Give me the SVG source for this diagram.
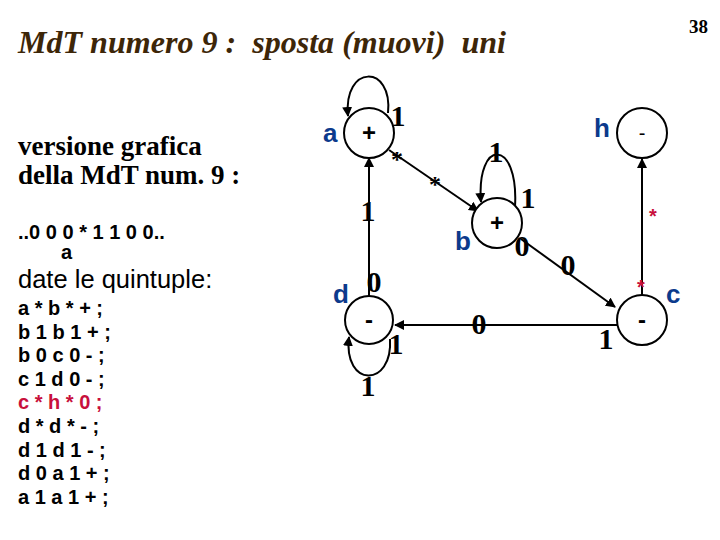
<svg xmlns="http://www.w3.org/2000/svg" width="720" height="540" viewBox="0 0 720 540">
<defs>
<style>
.title{font-family:"Liberation Serif",serif;font-weight:bold;font-style:italic;font-size:31px;fill:#3d2608}
.ser{font-family:"Liberation Serif",serif;font-weight:bold;font-size:27px;fill:#000}
.sans{font-family:"Liberation Sans",Arial,sans-serif;font-weight:bold;font-size:20px;fill:#000}
.red{fill:#c8103c}
.lbl{font-family:"Liberation Sans",Arial,sans-serif;font-weight:bold;font-size:26px;fill:#0c3a8c}
.sym{font-family:"Liberation Sans",Arial,sans-serif;font-weight:bold;font-size:24px;fill:#000;text-anchor:middle}
.dig{font-family:"Liberation Serif",serif;font-weight:bold;font-size:30px;fill:#000;text-anchor:middle}
.ast{font-family:"Liberation Serif",serif;font-weight:bold;font-size:24px;fill:#000;text-anchor:middle}
.rast{font-family:"Liberation Sans",Arial,sans-serif;font-weight:bold;font-size:20px;fill:#c8103c;text-anchor:middle}
circle.node{fill:#fff;stroke:#000;stroke-width:2}
.edge{fill:none;stroke:#000;stroke-width:2;marker-end:url(#arr)}
</style>
<marker id="arr" viewBox="0 0 10 10" refX="9" refY="5" markerWidth="5" markerHeight="5" orient="auto" markerUnits="strokeWidth">
<path d="M0,0 L10,5 L0,10 z" fill="#000"/>
</marker>
</defs>
<rect width="720" height="540" fill="#fff"/>

<text class="title" x="18" y="53" textLength="488" lengthAdjust="spacingAndGlyphs" xml:space="preserve">MdT numero 9 :  sposta (muovi)  uni</text>
<text x="708" y="33" text-anchor="end" style="font-family:'Liberation Serif',serif;font-weight:bold;font-size:19px">38</text>

<g id="left-text">
<text class="ser" x="18" y="155">versione grafica</text>
<text class="ser" x="18" y="184">della MdT num. 9 :</text>
<text class="sans" x="18" y="239" font-size="19">..0 0 0 * 1 1 0 0..</text>
<text class="sans" x="61" y="259" font-size="19">a</text>
<text x="18" y="288" style="font-family:'Liberation Sans',Arial,sans-serif;font-size:25.5px">date le quintuple:</text>
<text class="sans" x="18" y="315">a * b * + ;</text>
<text class="sans" x="18" y="338.6">b 1 b 1 + ;</text>
<text class="sans" x="18" y="362">b 0 c 0 - ;</text>
<text class="sans" x="18" y="385.7">c 1 d 0 - ;</text>
<text class="sans red" x="18" y="409">c * h * 0 ;</text>
<text class="sans" x="18" y="433">d * d * - ;</text>
<text class="sans" x="18" y="456.5">d 1 d 1 - ;</text>
<text class="sans" x="18" y="480">d 0 a 1 + ;</text>
<text class="sans" x="18" y="504">a 1 a 1 + ;</text>
</g>

<g id="connectors">
<path class="edge" d="M388,113 C393,64 343,64 348,116"/>
<path class="edge" d="M389,150 L478,211"/>
<path class="edge" d="M515,207 C519,138 476,138 481,202"/>
<path class="edge" d="M521,239 L615,307"/>
<path class="edge" d="M642,295 L642,159"/>
<path class="edge" d="M617,325 L395,325"/>
<path class="edge" d="M369,296 L369,158"/>
<path class="edge" d="M390,339 C393,388 343,388 349,337"/>
</g>

<g id="edge-labels">
<text class="dig" x="398" y="126">1</text>
<text class="ast" x="397" y="167">*</text>
<text class="ast" x="435" y="192">*</text>
<text class="dig" x="496" y="162">1</text>
<text class="dig" x="528" y="208">1</text>
<text class="dig" x="522" y="256">0</text>
<text class="dig" x="568" y="275">0</text>
<text class="rast" x="653" y="223">*</text>
<text class="rast" x="641" y="294">*</text>
<text class="dig" x="479" y="334">0</text>
<text class="dig" x="606" y="349">1</text>
<text class="dig" x="374" y="292">0</text>
<text class="dig" x="368" y="221">1</text>
<text class="dig" x="396" y="354">1</text>
<text class="dig" x="368" y="396">1</text>
</g>

<g id="node-a">
<circle class="node" cx="369" cy="133" r="25"/>
<text class="sym" x="369" y="141">+</text>
<text class="lbl" x="323" y="142">a</text>
</g>
<g id="node-b">
<circle class="node" cx="497" cy="223" r="25"/>
<text class="sym" x="497" y="231">+</text>
<text class="lbl" x="455" y="250">b</text>
</g>
<g id="node-c">
<circle class="node" cx="642" cy="320" r="25"/>
<text class="sym" x="642" y="328">-</text>
<text class="lbl" x="666" y="303">c</text>
</g>
<g id="node-d">
<circle class="node" cx="369" cy="320" r="24"/>
<text class="sym" x="369" y="328">-</text>
<text class="lbl" x="333" y="303">d</text>
</g>
<g id="node-h">
<circle class="node" cx="642" cy="133" r="25"/>
<text x="642" y="140" text-anchor="middle" style="font-family:'Liberation Sans',Arial,sans-serif;font-size:20px">-</text>
<text class="lbl" x="594" y="137">h</text>
</g>
</svg>
